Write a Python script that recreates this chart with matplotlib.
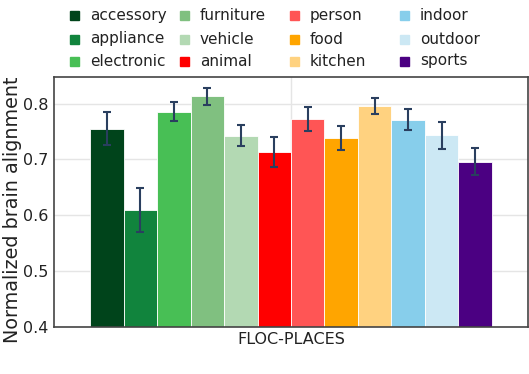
import numpy as np
import matplotlib
matplotlib.use('Agg')
import matplotlib.pyplot as plt
from matplotlib.patches import Rectangle

categories = ['accessory', 'appliance', 'electronic', 'furniture', 'vehicle', 'animal',
              'person', 'food', 'kitchen', 'indoor', 'outdoor', 'sports']
values = [0.755, 0.609, 0.785, 0.813, 0.742, 0.713,
          0.772, 0.738, 0.796, 0.771, 0.743, 0.696]
errors = [0.030, 0.040, 0.017, 0.015, 0.019, 0.027,
          0.022, 0.021, 0.014, 0.019, 0.024, 0.025]
colors = ['#00441b', '#11843d', '#48bf55', '#80c080', '#b3d9b3', '#ff0000',
          '#ff5555', '#ffa500', '#ffd280', '#87ceeb', '#cce8f4', '#4b0082']
group_label = 'FLOC-PLACES'

W, H = 529, 374
fig = plt.figure(figsize=(W/100, H/100), dpi=100)
ax = fig.add_axes([54/W, 1-326.7/H, (528-54)/W, (326.7-77)/H])

x = np.arange(len(values))
ax.bar(x, values, width=1.0, color=colors, edgecolor='white', linewidth=0.6, zorder=2)
ax.errorbar(x, values, yerr=errors, fmt='none', ecolor='#2a3f5f',
            elinewidth=1.5, capsize=3, capthick=1.5, zorder=3)

ax.set_ylim(0.4, 0.8475)
ax.set_xlim(-1.575, 12.575)
ax.set_yticks([0.4, 0.5, 0.6, 0.7, 0.8])
ax.set_yticklabels(['0.4', '0.5', '0.6', '0.7', '0.8'])
ax.set_xticks([5.5])
ax.set_xticklabels([group_label])
ax.tick_params(length=0, labelsize=11.5, colors='#222222', pad=4)
ax.grid(True, color='#e5e5e5', linewidth=1, zorder=0)
ax.set_axisbelow(True)
for s in ax.spines.values():
    s.set_color('#444444')
    s.set_linewidth(1.2)
ax.set_ylabel('Normalized brain alignment', fontsize=13.8, color='#222222')
ax.yaxis.set_label_coords(-0.068, 0.469)

# legend, plotly style: 4 columns x 3 rows
for i, (name, c) in enumerate(zip(categories, colors)):
    col, row = i // 3, i % 3
    mx = [74, 184, 294, 404][col]
    ty = [15.7, 39, 61][row]
    fig.add_artist(Rectangle(((mx-4.5)/W, 1-(ty+4.5)/H), 9/W, 9/H,
                             transform=fig.transFigure, color=c))
    fig.text((mx+16)/W, 1-ty/H, name, fontsize=11, color='#222222',
             va='center', ha='left')

fig.savefig('out.png', dpi=100)
